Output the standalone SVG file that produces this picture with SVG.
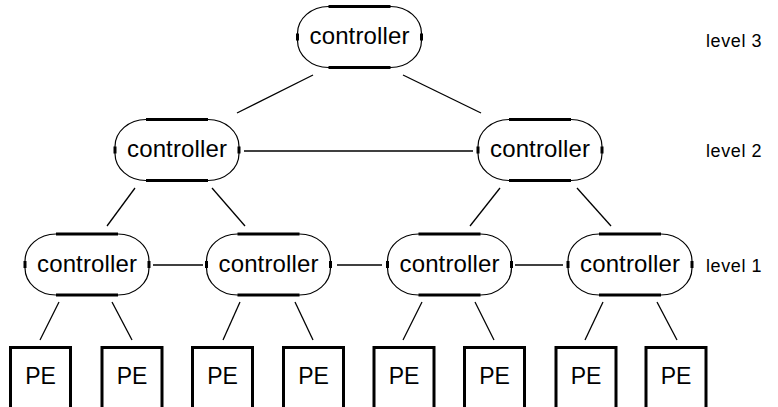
<svg xmlns="http://www.w3.org/2000/svg" xmlns:xlink="http://www.w3.org/1999/xlink" width="778" height="407" viewBox="0 0 778 407">
<style>
.thin{fill:none;stroke:#000;stroke-width:1.2}
.thick{fill:none;stroke:#000;stroke-width:3}
.ctl{font-family:"Liberation Sans",Arial,sans-serif;font-size:24px;text-anchor:middle;fill:#000}
.lvl{font-family:"Liberation Sans",Arial,sans-serif;font-size:18px;letter-spacing:0.6px;fill:#000}
.pe{font-family:"Liberation Sans",Arial,sans-serif;font-size:23px;text-anchor:middle;fill:#000}
.box{fill:#fff;stroke:#000;stroke-width:3}
.con{stroke:#000;stroke-width:1.3;fill:none}
</style>
<defs>
<g id="shape">
<rect class="thin" x="0" y="0" width="124" height="61" rx="31" ry="27"/>
<line class="thick" x1="31" y1="0" x2="93" y2="0"/>
<line class="thick" x1="31" y1="61" x2="93" y2="61"/>
<line class="thick" x1="0" y1="27" x2="0" y2="34"/>
<line class="thick" x1="124" y1="27" x2="124" y2="34"/>
</g>
</defs>
<g id="connectors">
<line class="con" x1="313" y1="75" x2="237" y2="113"/>
<line class="con" x1="403" y1="75" x2="481" y2="113"/>
<line class="con" x1="244" y1="151" x2="473" y2="151"/>
<line class="con" x1="135" y1="188" x2="107" y2="226"/>
<line class="con" x1="212" y1="188" x2="245" y2="226"/>
<line class="con" x1="500" y1="188" x2="470" y2="226"/>
<line class="con" x1="577" y1="188" x2="611" y2="226"/>
<line class="con" x1="153" y1="265" x2="203" y2="265"/>
<line class="con" x1="337" y1="265" x2="382" y2="265"/>
<line class="con" x1="515" y1="265" x2="563" y2="265"/>
<line class="con" x1="59" y1="302" x2="40" y2="340"/>
<line class="con" x1="112" y1="302" x2="132" y2="340"/>
<line class="con" x1="240" y1="302" x2="223" y2="340"/>
<line class="con" x1="295" y1="302" x2="313" y2="340"/>
<line class="con" x1="422" y1="302" x2="403" y2="340"/>
<line class="con" x1="475" y1="302" x2="494" y2="340"/>
<line class="con" x1="603" y1="302" x2="585" y2="340"/>
<line class="con" x1="657" y1="302" x2="677" y2="340"/>
</g>
<g id="ctl-top"><use xlink:href="#shape" x="297.5" y="6.5"/><text class="ctl" x="359.5" y="44" textLength="100">controller</text></g>
<g id="ctl-l2-a"><use xlink:href="#shape" x="115" y="119.5"/><text class="ctl" x="177" y="157" textLength="100">controller</text></g>
<g id="ctl-l2-b"><use xlink:href="#shape" x="478" y="119.5"/><text class="ctl" x="540" y="157" textLength="100">controller</text></g>
<g id="ctl-l1-a"><use xlink:href="#shape" x="25" y="234"/><text class="ctl" x="87" y="271.5" textLength="100">controller</text></g>
<g id="ctl-l1-b"><use xlink:href="#shape" x="206.5" y="234"/><text class="ctl" x="268.5" y="271.5" textLength="100">controller</text></g>
<g id="ctl-l1-c"><use xlink:href="#shape" x="387.5" y="234"/><text class="ctl" x="449.5" y="271.5" textLength="100">controller</text></g>
<g id="ctl-l1-d"><use xlink:href="#shape" x="568" y="234"/><text class="ctl" x="630" y="271.5" textLength="100">controller</text></g>
<g id="pe1"><rect class="box" x="10.5" y="347.5" width="60" height="80"/><text class="pe" x="40.5" y="384">PE</text></g>
<g id="pe2"><rect class="box" x="102" y="347.5" width="60" height="80"/><text class="pe" x="132" y="384">PE</text></g>
<g id="pe3"><rect class="box" x="192.5" y="347.5" width="60" height="80"/><text class="pe" x="222.5" y="384">PE</text></g>
<g id="pe4"><rect class="box" x="283.5" y="347.5" width="60" height="80"/><text class="pe" x="313.5" y="384">PE</text></g>
<g id="pe5"><rect class="box" x="374" y="347.5" width="60" height="80"/><text class="pe" x="404" y="384">PE</text></g>
<g id="pe6"><rect class="box" x="464.5" y="347.5" width="60" height="80"/><text class="pe" x="494.5" y="384">PE</text></g>
<g id="pe7"><rect class="box" x="556" y="347.5" width="60" height="80"/><text class="pe" x="586" y="384">PE</text></g>
<g id="pe8"><rect class="box" x="646" y="347.5" width="60" height="80"/><text class="pe" x="676" y="384">PE</text></g>
<g id="levels">
<text class="lvl" x="706" y="47">level 3</text>
<text class="lvl" x="706" y="157">level 2</text>
<text class="lvl" x="706" y="272">level 1</text>
</g>
</svg>
